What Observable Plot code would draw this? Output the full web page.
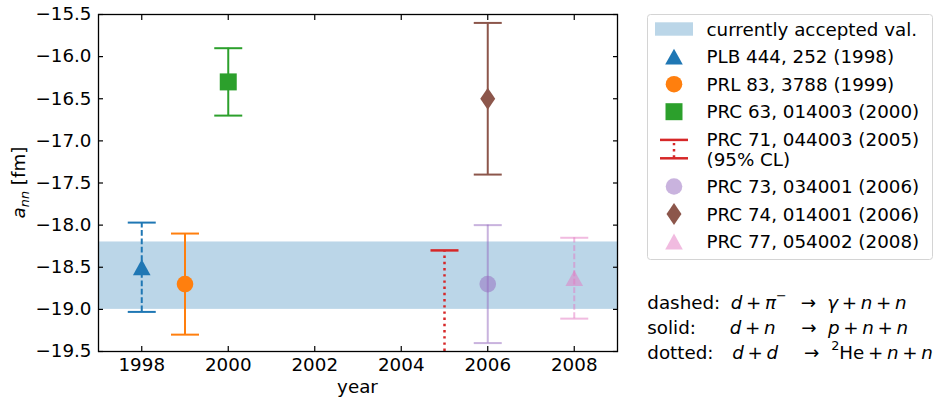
<!DOCTYPE html>
<html><head><meta charset="utf-8">
<script src="https://cdn.jsdelivr.net/npm/d3@7"></script>
<script src="https://cdn.jsdelivr.net/npm/@observablehq/plot@0.6"></script>
<style>
body{margin:0;background:#fff;}
#wrap{position:relative;width:937px;height:397px;overflow:hidden;font-family:"DejaVu Sans";}
#chart{position:absolute;left:0;top:0;}
#overlay{position:absolute;left:0;top:0;pointer-events:none;}
</style></head><body>
<div id="wrap"><div id="chart"></div><svg id="overlay" width="937" height="397"></svg></div>
<script>
// ---- data ----
const refs = ["PLB 444, 252 (1998)", "PRL 83, 3788 (1999)", "PRC 63, 014003 (2000)", "PRC 71, 044003 (2005)\n(95% CL)", "PRC 73, 034001 (2006)", "PRC 74, 014001 (2006)", "PRC 77, 054002 (2008)"];
const years = [1998, 1999, 2000, 2005, 2006, 2006, 2008];
const central = [-18.5, -18.7, -16.3, null, -18.7, -16.5, -18.63];
const upper = [-17.97, -18.1, -15.9, -18.3, -18.0, -15.6, -18.15];
const lower = [-19.03, -19.3, -16.7, -19.5, -19.4, -17.4, -19.11];
const lowerCap = [true, true, true, false, true, true, true];
const lineStyle = ["dashed", "solid", "solid", "dotted", "solid", "solid", "dashed"];
const colors = ["#1f77b4", "#ff7f0e", "#2ca02c", "#d62728", "#9467bd", "#8c564b", "#e377c2"];
const alphas = [1, 1, 1, 1, 0.5, 1, 0.5];
const markers = ["triangle", "circle", "square", null, "circle", "thindiamond", "triangle"];
const band = [-19.0, -18.2];
const bandLabel = "currently accepted val.";
const xDomain = [1997, 2009];
const yDomain = [-19.5, -15.5];
const xTicks = [1998, 2000, 2002, 2004, 2006, 2008];
const yTicks = [-19.5, -19.0, -18.5, -18.0, -17.5, -17.0, -16.5, -16.0, -15.5];
const xLabel = "year";
const PLUS = "\u2009+\u2009";
const reactionLabels = ["dashed:", "solid:", "dotted:"];
const reactionLHS = [
  [["d","i"],[PLUS,"r"],["π","i"],["\u2212","sup"]],
  [["d","i"],[PLUS,"r"],["n","i"]],
  [["d","i"],[PLUS,"r"],["d","i"]]
];
const reactionRHS = [
  [["γ","i"],[PLUS,"r"],["n","i"],[PLUS,"r"],["n","i"]],
  [["p","i"],[PLUS,"r"],["n","i"],[PLUS,"r"],["n","i"]],
  [["2","sup"],["He","r"],[PLUS,"r"],["n","i"],[PLUS,"r"],["n","i"]]
];

// ---- styles ----
const FS = 18.3, SUB = 12.8;
const dashes = {dashed: "5.8,2.6", solid: null, dotted: "2.4,3.8"};
const widths = {dashed: 2, solid: 2, dotted: 2.5};
function rr(s){ return Math.sqrt(s / Math.PI); }
const symbols = {
  triangle: {draw(c, s){ const r = rr(s); c.moveTo(0, -0.9*r); c.lineTo(r, 0.9*r); c.lineTo(-r, 0.9*r); c.closePath(); }},
  circle: {draw(c, s){ const r = rr(s); c.moveTo(r, 0); c.arc(0, 0, r, 0, 2*Math.PI); c.closePath(); }},
  square: {draw(c, s){ const r = rr(s); c.moveTo(-r, -r); c.lineTo(r, -r); c.lineTo(r, r); c.lineTo(-r, r); c.closePath(); }},
  thindiamond: {draw(c, s){ const r = rr(s); c.moveTo(0, -r); c.lineTo(0.68*r, 0); c.lineTo(0, r); c.lineTo(-0.68*r, 0); c.closePath(); }},
  cap: {draw(c, s){ const r = rr(s); c.moveTo(-r, 0); c.lineTo(r, 0); }}
};
const markerR = {triangle: 8.8, circle: 8.3, square: 8.5, thindiamond: 11};
const capR = 14;

const rows = years.map((x, i) => ({ref: refs[i], x, y: central[i], hi: upper[i], lo: lower[i]}));

const marks = [
  Plot.rect([0], {x1: xDomain[0], x2: xDomain[1], y1: band[0], y2: band[1], fill: colors[0], fillOpacity: 0.3})
];
rows.forEach((r, i) => {
  const st = lineStyle[i];
  marks.push(Plot.ruleX([r], {x: "x", y1: "lo", y2: "hi", stroke: colors[i], strokeOpacity: alphas[i], strokeWidth: widths[st], strokeDasharray: dashes[st]}));
  marks.push(Plot.dot([r], {x: "x", y: "hi", symbol: symbols.cap, r: capR, fill: "none", stroke: colors[i], strokeOpacity: alphas[i], strokeWidth: widths[st]}));
  if (lowerCap[i]) marks.push(Plot.dot([r], {x: "x", y: "lo", symbol: symbols.cap, r: capR, fill: "none", stroke: colors[i], strokeOpacity: alphas[i], strokeWidth: widths[st]}));
  if (markers[i]) marks.push(Plot.dot([r], {x: "x", y: "y", symbol: symbols[markers[i]], r: markerR[markers[i]], fill: colors[i], fillOpacity: alphas[i], stroke: "none"}));
});
marks.push(
  Plot.axisX(xTicks, {anchor: "bottom", tickSize: -5, tickPadding: 11, strokeWidth: 1.2, tickFormat: d => String(d), label: null}),
  Plot.axisX(xTicks, {anchor: "top", tickSize: -5, strokeWidth: 1.2, tickFormat: () => "", label: null}),
  Plot.axisY(yTicks, {anchor: "left", tickSize: -5, tickPadding: 12, strokeWidth: 1.2, tickFormat: d3.format(".1f"), label: null}),
  Plot.axisY(yTicks, {anchor: "right", tickSize: -5, strokeWidth: 1.2, tickFormat: () => "", label: null}),
  Plot.frame({stroke: "black", strokeWidth: 1.3})
);

const chart = Plot.plot({
  width: 640, height: 397,
  marginLeft: 98, marginRight: 23, marginTop: 14, marginBottom: 46,
  x: {domain: xDomain}, y: {domain: yDomain},
  style: {fontFamily: "DejaVu Sans", fontSize: FS + "px", color: "black", background: "white", overflow: "visible"},
  marks
});
document.getElementById("chart").appendChild(chart);

// ---- overlay: axis labels, legend, reaction notes ----
const ov = d3.select("#overlay").style("font-family", "DejaVu Sans").style("font-size", FS + "px");

// y label
const yl = ov.append("text").attr("transform", "translate(24.5,182.5) rotate(-90)").attr("text-anchor", "middle");
yl.append("tspan").attr("font-style", "italic").text("a");
yl.append("tspan").attr("font-style", "italic").attr("font-size", SUB + "px").attr("dy", 4).text("nn");
yl.append("tspan").attr("dy", -4).text(" [fm]");
// x label
ov.append("text").attr("x", 357.5).attr("y", 393.3).attr("text-anchor", "middle").text(xLabel);

// legend
ov.append("rect").attr("x", 647.5).attr("y", 14.5).attr("width", 285).attr("height", 245).attr("rx", 3)
  .attr("fill", "white").attr("fill-opacity", 0.8).attr("stroke", "#d4d4d4").attr("stroke-width", 1);
const hx = 674, tx = 706.5;
let base = 35.8;
// band entry
ov.append("rect").attr("x", 655).attr("y", 22.3).attr("width", 38).attr("height", 13.4).attr("fill", colors[0]).attr("fill-opacity", 0.3);
ov.append("text").attr("x", tx).attr("y", base).text(bandLabel);
base += 27.5;
refs.forEach((label, i) => {
  const lines = label.split("\n");
  const cy = base + (lines.length - 1) * 19.8 / 2 - 6.6;
  if (markers[i]) {
    const p = d3.path();
    const R = markerR[markers[i]];
    symbols[markers[i]].draw(p, R * R * Math.PI);
    ov.append("path").attr("d", p.toString()).attr("transform", `translate(${hx},${cy})`)
      .attr("fill", colors[i]).attr("fill-opacity", alphas[i]);
  } else {
    const g = ov.append("g").attr("transform", `translate(${hx},${cy})`).attr("stroke", colors[i]).attr("stroke-width", widths[lineStyle[i]]);
    g.append("line").attr("x1", -14).attr("x2", 14).attr("y1", -9.2).attr("y2", -9.2);
    g.append("line").attr("x1", -14).attr("x2", 14).attr("y1", 9.2).attr("y2", 9.2);
    g.append("line").attr("x1", 0).attr("x2", 0).attr("y1", -9.2).attr("y2", 9.2).attr("stroke-dasharray", dashes[lineStyle[i]]).attr("stroke-dashoffset", -3);
  }
  lines.forEach((ln, j) => ov.append("text").attr("x", tx).attr("y", base + j * 19.8).text(ln));
  base += 27.5 + (lines.length - 1) * 19.8;
});

// reaction notes
const noteBase = [308.7, 333.7, 359];
const xLab = 647.3, xL = [730.7, 729.7, 732.3], xArr = [800.7, 801.3, 804], xR = [827.3, 828, 831.2];
function parts(sel, list) {
  let shift = 0;
  list.forEach(([t, k]) => {
    const ts = sel.append("tspan").text(t);
    if (k === "i") ts.attr("font-style", "italic");
    if (k === "sup") { ts.attr("font-size", SUB + "px").attr("dy", -9 - shift); shift = -9; }
    else if (shift) { ts.attr("dy", -shift); shift = 0; }
  });
}
reactionLabels.forEach((lab, i) => {
  ov.append("text").attr("x", xLab).attr("y", noteBase[i]).text(lab);
  parts(ov.append("text").attr("x", xL[i]).attr("y", noteBase[i]).style("white-space", "pre"), reactionLHS[i]);
  ov.append("text").attr("x", xArr[i]).attr("y", noteBase[i]).text("→");
  parts(ov.append("text").attr("x", xR[i]).attr("y", noteBase[i]).style("white-space", "pre"), reactionRHS[i]);
});
</script>
</body></html>
